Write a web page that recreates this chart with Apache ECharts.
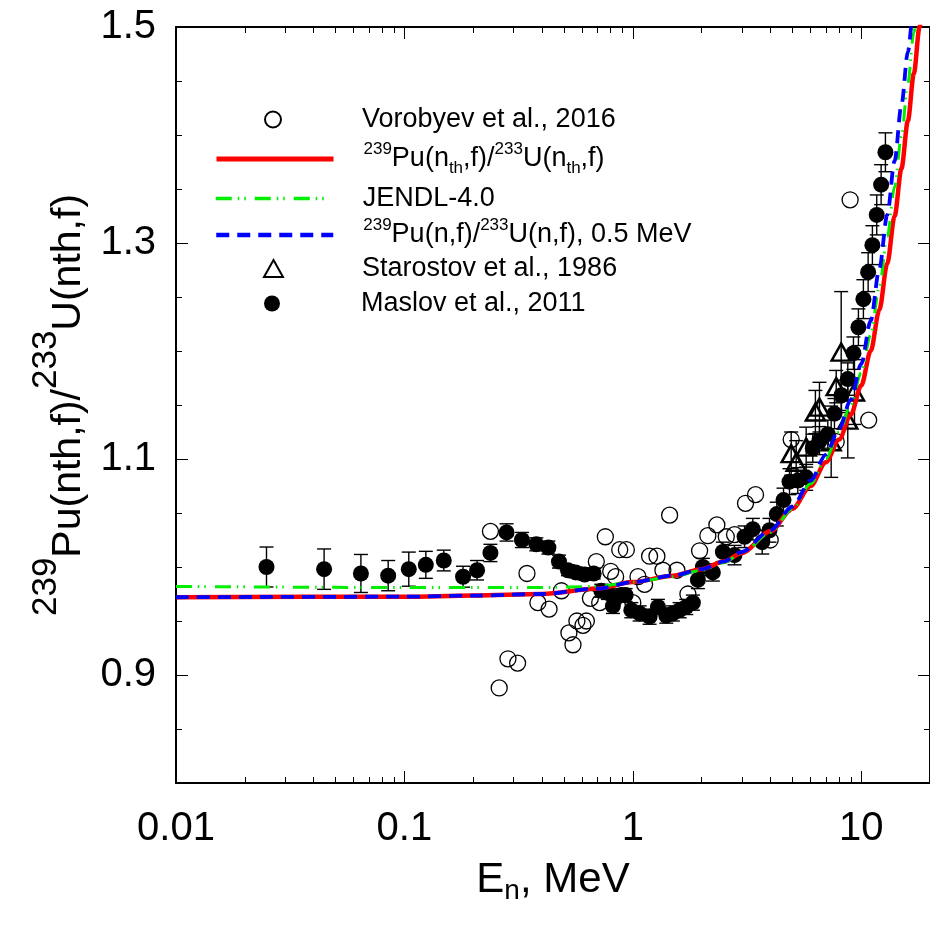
<!DOCTYPE html>
<html><head><meta charset="utf-8">
<script src="https://cdn.jsdelivr.net/npm/echarts@6/dist/echarts.min.js"></script>
<style>html,body{margin:0;padding:0;background:#fff}#c{width:930px;height:929px}</style>
</head><body><div id="c"></div><script>
// ---------- data ----------
const maslovE = [0.0249,0.0445,0.0645,0.0849,0.1045,0.1241,0.1487,0.1806,0.208,0.238,0.28,0.327,0.378,0.427,0.475,0.52,0.562,0.615,0.674,0.728,0.778,0.818,0.832,0.891,0.93,0.985,1.071,1.184,1.288,1.401,1.497,1.602,1.714,1.832,1.927,2.026,2.24,2.478,2.788,3.084,3.353,3.686,3.966,4.27,4.568,4.852,5.275,5.741,6.135,6.563,7.138,7.635,8.193,8.73,9.245,9.72,10.22,10.72,11.19,11.69,12.22,12.76];
const maslovY = [1.000,0.998,0.994,0.992,0.998,1.002,1.006,0.991,0.997,1.013,1.032,1.025,1.021,1.018,1.005,0.997,0.995,0.993,0.994,0.978,0.976,0.964,0.972,0.974,0.974,0.960,0.957,0.954,0.963,0.955,0.957,0.960,0.963,0.967,0.988,1.000,0.995,1.014,1.011,1.028,1.035,1.023,1.034,1.049,1.062,1.079,1.080,1.083,1.110,1.117,1.123,1.142,1.159,1.174,1.198,1.222,1.248,1.273,1.298,1.326,1.354,1.384];
const maslovErr = [0.0185,0.0187,0.0176,0.014,0.0158,0.0125,0.0096,0.0097,0.009,0.008,0.008,0.007,0.006,0.006,0.006,0.005,0.005,0.005,0.005,0.006,0.006,0.007,0.006,0.006,0.006,0.007,0.007,0.007,0.007,0.007,0.007,0.007,0.007,0.007,0.008,0.008,0.008,0.009,0.009,0.01,0.01,0.011,0.011,0.011,0.011,0.012,0.012,0.012,0.013,0.013,0.013,0.014,0.014,0.015,0.015,0.017,0.018,0.018,0.018,0.0185,0.0185,0.018];

const vorobyevE = [0.238,0.26,0.284,0.313,0.344,0.384,0.43,0.487,0.525,0.547,0.569,0.605,0.626,0.652,0.692,0.716,0.758,0.8,0.841,0.876,0.937,1.0,1.053,1.126,1.184,1.275,1.354,1.449,1.56,1.742,1.96,2.13,2.333,2.565,2.788,3.114,3.445,3.995,4.935,7.77,8.94,10.78];
const vorobyevY = [1.033,0.888,0.915,0.911,0.994,0.967,0.961,0.978,0.939,0.928,0.950,0.946,0.950,0.971,1.005,0.967,1.028,0.996,0.991,1.016,1.016,0.967,0.991,0.984,1.010,1.010,0.997,1.048,0.997,0.975,1.015,1.029,1.039,1.028,1.030,1.059,1.067,1.025,1.118,1.116,1.340,1.136];

const starostovE = [4.935,5.19,5.74,6.30,6.563,7.385,7.77,8.17,8.73,9.34];
const starostovY = [1.105,1.097,1.111,1.1435,1.148,1.116,1.167,1.199,1.136,1.162];
const starostovErr = [0.02,0.02,0.0185,0.02,0.023,0.033,0.015,0.056,0.035,0.03];

const curveE = [0.01,0.1,0.2,0.4,0.7,1,1.5,2,2.5,3,4,5,6,7,8,9,10,11,12,13,14,15,16,17,18,19,20];
const thermalRatio = [0.972,0.9725,0.9735,0.975,0.98,0.986,0.992,0.998,1.005,1.013,1.033,1.054,1.075,1.097,1.118,1.141,1.168,1.2,1.238,1.281,1.325,1.369,1.413,1.457,1.50,1.545,1.59];
const jendlRatio = [0.982,0.981,0.981,0.981,0.982,0.986,0.991,0.997,1.004,1.013,1.032,1.054,1.077,1.10,1.125,1.15,1.18,1.215,1.259,1.306,1.352,1.399,1.448,1.495,1.54,1.585,1.63];
const halfMeVRatio = [0.972,0.9725,0.9735,0.975,0.98,0.986,0.992,0.998,1.005,1.014,1.034,1.056,1.08,1.104,1.128,1.155,1.188,1.228,1.276,1.326,1.376,1.428,1.477,1.52,1.57,1.62,1.67];

const xMajorTicks = [0.01,0.1,1,10];
const xMinorTicks = [0.02,0.03,0.04,0.05,0.06,0.07,0.08,0.09,0.2,0.3,0.4,0.5,0.6,0.7,0.8,0.9,2,3,4,5,6,7,8,9];
const yMajorTicks = [0.9,1.1,1.3,1.5];
const yMinorTicks = [0.85,0.95,1.0,1.05,1.15,1.2,1.25,1.35,1.4,1.45];

const names = {
  vor: 'Vorobyev et al., 2016',
  th: 'thermal',
  jendl: 'JENDL-4.0',
  half: 'half',
  star: 'Starostov et al., 1986',
  mas: 'Maslov et al., 2011'
};
const legendText = {
  'Vorobyev et al., 2016': '{m|Vorobyev et al., 2016}',
  'thermal': '{s|239}{m|Pu(n}{b|th}{m|,f)/}{s|233}{m|U(n}{b|th}{m|,f)}',
  'JENDL-4.0': '{m|JENDL-4.0}',
  'half': '{s|239}{m|Pu(n,f)/}{s|233}{m|U(n,f), 0.5 MeV}',
  'Starostov et al., 1986': '{m|Starostov et al., 1986}',
  'Maslov et al., 2011': '{m|Maslov et al., 2011}'
};

// ---------- chart ----------
const FONT = "'Liberation Sans', Arial, Helvetica, sans-serif";
const zip = (a, b) => a.map((v, i) => [v, b[i]]);
const zip3 = (a, b, c) => a.map((v, i) => [v, b[i], c[i]]);
const fmtNum = v => String(+(+v).toPrecision(6));

function xAxisDef(pos, ticks, len, opts) {
  return Object.assign({
    type: 'log', logBase: 10, min: 0.01, max: 20, position: pos,
    axisLine: { show: false },
    axisTick: { show: true, inside: true, length: len, customValues: ticks, lineStyle: { color: '#000', width: 1 } },
    axisLabel: { show: false },
    splitLine: { show: false }, minorTick: { show: false }
  }, opts || {});
}
function yAxisDef(pos, ticks, len, opts) {
  return Object.assign({
    type: 'value', min: 0.8, max: 1.5, position: pos,
    axisLine: { show: false },
    axisTick: { show: true, inside: true, length: len, customValues: ticks, lineStyle: { color: '#000', width: 1 } },
    axisLabel: { show: false },
    splitLine: { show: false }
  }, opts || {});
}

const chart = echarts.init(document.getElementById('c'), null, { renderer: 'canvas' });

const axisLineStyle = { show: true, onZero: false, lineStyle: { color: '#000', width: 2 } };

const legendRich = {
  m: { fontSize: 27, lineHeight: 36, fontFamily: FONT, color: '#000' },
  s: { fontSize: 17, lineHeight: 17, verticalAlign: 'top', fontFamily: FONT, color: '#000' },
  b: { fontSize: 17, lineHeight: 22, verticalAlign: 'bottom', fontFamily: FONT, color: '#000' }
};
// per legend row: [name, left, top, itemWidth, itemHeight, textPadLeft, legendLineWidth]
const legendRows = [
  [names.vor,   264, 106, 16, 16, 76, 0],
  [names.th,    214, 141, 117, 16, 25, 5],
  [names.jendl, 214, 185, 117, 16, 25, 3.5],
  [names.half,  214, 217, 117, 16, 25, 4.5],
  [names.star,  263, 255, 19, 17, 74, 0],
  [names.mas,   264, 290, 16, 16, 76, 0]
];
const legends = legendRows.map(r => {
  const lg = {
    data: [r[0]], left: r[1], top: r[2], padding: 0,
    orient: 'horizontal', itemWidth: r[3], itemHeight: r[4], selectedMode: false,
    formatter: n => legendText[n],
    textStyle: { fontFamily: FONT, fontSize: 27, color: '#000', padding: [0, 0, 0, r[5]], rich: legendRich }
  };
  if (r[6]) { lg.itemStyle = { opacity: 0 }; lg.lineStyle = { width: r[6] }; }
  return lg;
});

function errorBarRender(params, api) {
  const x = api.value(0), y = api.value(1), e = api.value(2);
  const top = api.coord([x, y + e]);
  const bot = api.coord([x, y - e]);
  const hw = 7;
  const st = { stroke: '#000', lineWidth: 1.4 };
  return {
    type: 'group',
    children: [
      { type: 'line', shape: { x1: top[0], y1: top[1], x2: bot[0], y2: bot[1] }, style: st },
      { type: 'line', shape: { x1: top[0] - hw, y1: top[1], x2: top[0] + hw, y2: top[1] }, style: st },
      { type: 'line', shape: { x1: bot[0] - hw, y1: bot[1], x2: bot[0] + hw, y2: bot[1] }, style: st }
    ]
  };
}

const option = {
  animation: false,
  backgroundColor: '#fff',
  grid: { left: 176, top: 27, right: 0, bottom: 146, containLabel: false },
  legend: legends,
  xAxis: [
    xAxisDef('bottom', xMajorTicks, 12, {
      axisLine: axisLineStyle,
      axisLabel: { show: true, customValues: xMajorTicks, formatter: fmtNum, fontSize: 40, lineHeight: 40,
        fontFamily: FONT, color: '#000', margin: 26 },
      name: '{a|E}{n|n}{a|, MeV}', nameLocation: 'middle', nameGap: 72,
      nameTextStyle: { fontFamily: FONT, color: '#000', fontSize: 42,
        rich: { a: { fontSize: 42, lineHeight: 50, fontFamily: FONT, color: '#000' },
                n: { fontSize: 28, lineHeight: 8, verticalAlign: 'bottom', fontFamily: FONT, color: '#000' } } }
    }),
    xAxisDef('bottom', xMinorTicks, 6),
    xAxisDef('top', xMajorTicks, 12, { axisLine: axisLineStyle }),
    xAxisDef('top', xMinorTicks, 6)
  ],
  yAxis: [
    yAxisDef('left', yMajorTicks, 12, {
      axisLine: axisLineStyle,
      axisLabel: { show: true, customValues: yMajorTicks, formatter: v => (+v).toFixed(1), fontSize: 40,
        fontFamily: FONT, color: '#000', margin: 20 },
      name: '{s|239}{m|Pu(nth,f)/}{s|233}{m|U(nth,f)}', nameLocation: 'middle', nameGap: 58, nameRotate: 90,
      nameTextStyle: { fontFamily: FONT, color: '#000', fontSize: 41,
        rich: { m: { fontSize: 41, lineHeight: 80, fontFamily: FONT, color: '#000' },
                s: { fontSize: 35, lineHeight: 34, verticalAlign: 'top', fontFamily: FONT, color: '#000' } } }
    }),
    yAxisDef('left', yMinorTicks, 6),
    yAxisDef('right', yMajorTicks, 12, { axisLine: axisLineStyle }),
    yAxisDef('right', yMinorTicks, 6)
  ],
  series: [
    { type: 'custom', name: 'maslovErr', xAxisIndex: 0, yAxisIndex: 0, z: 1,
      renderItem: errorBarRender, encode: { x: 0, y: 1 }, data: zip3(maslovE, maslovY, maslovErr) },
    { type: 'custom', name: 'starErr', xAxisIndex: 0, yAxisIndex: 0, z: 1,
      renderItem: errorBarRender, encode: { x: 0, y: 1 }, data: zip3(starostovE, starostovY, starostovErr) },
    { type: 'scatter', name: names.vor, xAxisIndex: 0, yAxisIndex: 0, z: 2,
      symbol: 'circle', symbolSize: 16,
      itemStyle: { color: 'rgba(0,0,0,0)', borderColor: '#000', borderWidth: 1.3, opacity: 1 },
      data: zip(vorobyevE, vorobyevY) },
    { type: 'scatter', name: names.star, xAxisIndex: 0, yAxisIndex: 0, z: 2,
      symbol: 'triangle', symbolSize: [19, 17],
      itemStyle: { color: 'rgba(0,0,0,0)', borderColor: '#000', borderWidth: 2.5, opacity: 1 },
      data: zip(starostovE, starostovY) },
    { type: 'scatter', name: names.mas, xAxisIndex: 0, yAxisIndex: 0, z: 2,
      symbol: 'circle', symbolSize: 16,
      itemStyle: { color: '#000', opacity: 1 },
      data: zip(maslovE, maslovY) },
    { type: 'line', name: names.th, xAxisIndex: 0, yAxisIndex: 0, z: 3,
      symbol: 'none', smooth: 0.3, smoothMonotone: 'x',
      lineStyle: { color: '#ff0000', width: 4.5 }, itemStyle: { color: '#ff0000' },
      data: zip(curveE, thermalRatio) },
    { type: 'line', name: names.jendl, xAxisIndex: 0, yAxisIndex: 0, z: 4,
      symbol: 'none', smooth: 0.3, smoothMonotone: 'x',
      lineStyle: { color: '#00ee00', width: 3, type: [16, 6, 1.5, 5, 1.5, 9] }, itemStyle: { color: '#00ee00' },
      data: zip(curveE, jendlRatio) },
    { type: 'line', name: names.half, xAxisIndex: 0, yAxisIndex: 0, z: 5,
      symbol: 'none', smooth: 0.3, smoothMonotone: 'x',
      lineStyle: { color: '#0000ff', width: 3.8, type: [13, 8] }, itemStyle: { color: '#0000ff' },
      data: zip(curveE, halfMeVRatio) }
  ]
};
chart.setOption(option);
</script></body></html>
